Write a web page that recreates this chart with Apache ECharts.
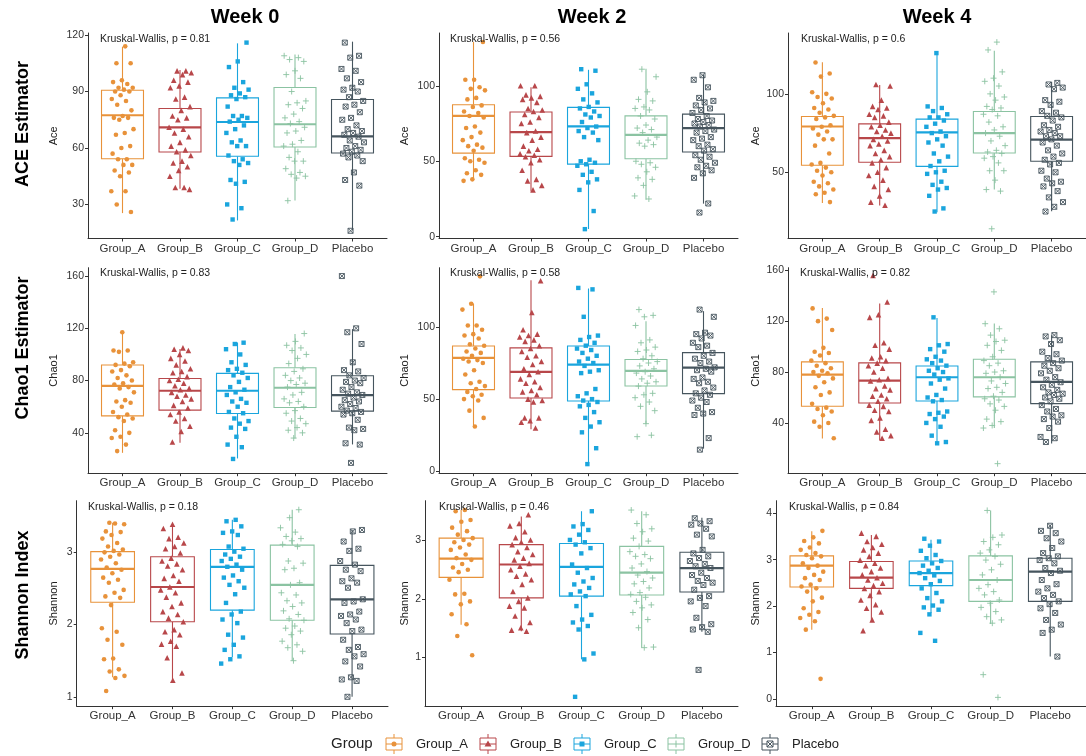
<!DOCTYPE html>
<html><head><meta charset="utf-8">
<script src="https://cdn.jsdelivr.net/npm/echarts@6/dist/echarts.min.js"></script>
<style>html,body{margin:0;padding:0;background:#fff}#c{width:1086px;height:756px}</style>
</head><body><div id="c"></div>
<script>
// ---------- data ----------
const groups = ['Group_A','Group_B','Group_C','Group_D','Placebo'];
const weeks = ['Week 0','Week 2','Week 4'];
const metrics = ['ACE Estimator','Chao1 Estimator','Shannon Index'];
const axisNames = ['Ace','Chao1','Shannon'];
const pValues = [['0.81','0.56','0.6'],['0.83','0.58','0.82'],['0.18','0.46','0.84']];

// box stats: [lower whisker, Q1, median, Q3, upper whisker]
const ace_w0_box = [[25.4,54.3,77.4,90.7,113.8],[38.4,57.9,70.9,81,101.4],[21.5,55.6,73.8,86.6,115.6],[32.1,60.5,72.6,92.1,109.7],[16.2,57.3,66.2,85.8,116.5]];
const ace_w2_box = [[37.7,55.4,80.1,87.4,129],[30,53.2,69.3,82.6,99.1],[5.1,48.1,73.1,85.7,110.6],[24.5,51.7,67.5,80.1,111.3],[21.9,56.1,72,81.2,107.3]];
const ace_w4_box = [[30.5,54.5,79.2,85.6,120.1],[28.8,56.4,71.8,80.9,105.7],[24.6,53.8,75.4,83.9,125.8],[39,62.3,75,88.8,127.5],[25.2,57,70.8,85.6,107.8]];
const chao_w0_box = [[24.7,53,76,91.9,116.9],[32.4,57.4,72.2,81.6,104.1],[20.4,54.8,72.2,85.5,109.2],[35.7,59.4,74.5,89.8,115.6],[31.1,56.6,68.9,83.7,119.4]];
const chao_w2_box = [[31.4,56.6,78.5,86.8,116.2],[29.1,50.8,68.8,85.5,132.3],[5.3,48.7,73.9,86.8,126.6],[33,59.1,69.5,77.4,103.9],[15.7,53.8,71.8,82.2,110.9]];
const chao_w4_box = [[27.7,53.1,78,88,130.4],[26.4,55.7,73.3,87.2,133.8],[23.8,57.3,75.9,84.8,122.5],[36.1,60.5,75.9,90.1,118.1],[23.8,55.2,72.2,88,108.9]];
const shan_w0_box = [[1.27,2.31,2.77,3.01,3.41],[1.23,2.04,2.52,2.94,3.36],[1.55,2.20,2.80,3.04,3.45],[1.50,2.06,2.55,3.10,3.59],[1.0,1.87,2.35,2.82,3.31]];
const shan_w2_box = [[1.56,2.37,2.69,3.04,3.52],[1.45,2.02,2.59,2.93,3.41],[0.97,2.05,2.55,2.95,3.50],[1.17,2.07,2.45,2.90,3.50],[1.44,2.12,2.53,2.80,3.39]];
const shan_w4_box = [[1.49,2.41,2.87,3.08,3.61],[1.67,2.38,2.61,2.96,3.53],[1.85,2.44,2.71,2.97,3.43],[1.61,2.10,2.56,3.08,4.06],[0.91,2.10,2.74,3.03,3.75]];

// individual samples (jittered points), one array per group
const ace_w0_pts = [
 [114,105,105,96,95,94,92,92,91,90,90,88,86,85,83,80,77,76,76,75,70,68,67,61,60,57,54,54,51,51,48,47,45,37,37,30,26],
 [101,101,100,99,96,95,93,92,87,86,82,80,77,76,75,71,70,68,66,63,61,59,58,56,53,52,50,48,45,39,39,38],
 [116,106,103,95,92,91,89,88,87,86,82,77,77,76,75,74,72,70,68,64,63,61,61,56,54,53,52,51,43,42,41,30,28,22],
 [109,108,107,106,101,99,97,90,85,84,83,81,78,76,74,73,71,69,68,64,62,61,58,55,53,53,49,47,46,45,44,32],
 [116,109,108,102,101,97,95,92,91,90,87,85,83,82,79,76,75,72,70,69,68,67,66,64,63,61,60,59,58,57,56,55,53,47,43,40,16]];
const ace_w2_pts = [
 [129,104,104,99,98,97,92,91,87,86,83,82,80,79,73,72,69,66,64,61,60,59,57,52,51,50,49,44,42,41,38,37],
 [100,100,94,93,92,91,89,85,84,83,81,79,76,75,70,69,66,64,60,58,57,55,54,53,51,49,44,38,37,34,31],
 [111,110,101,98,95,91,89,86,85,83,81,80,79,76,73,72,70,69,66,64,51,50,49,48,47,43,41,38,36,31,17,5],
 [111,106,96,91,90,86,85,84,80,78,74,72,71,69,66,64,62,61,60,50,49,48,46,43,39,38,34,27,25],
 [107,104,99,92,90,89,87,85,84,82,80,78,77,76,75,74,73,71,70,69,66,65,64,61,60,58,57,54,53,51,49,47,46,44,42,39,22,16]];
const ace_w4_pts = [
 [120,113,111,101,100,98,97,94,91,90,88,86,85,84,80,79,78,76,74,71,71,67,62,56,55,53,51,50,48,44,43,41,39,37,36,31],
 [106,105,96,92,91,90,87,86,85,82,80,79,77,76,75,73,71,70,68,67,64,62,60,58,56,53,50,48,45,41,39,35,31,29],
 [126,92,91,89,87,85,85,83,81,79,76,75,73,71,69,67,62,60,57,54,51,50,49,44,42,40,39,35,27,25],
 [133,128,114,110,108,105,100,98,96,92,91,90,87,86,82,79,77,75,73,70,67,64,63,62,60,59,56,51,51,45,39,38,14],
 [107,106,104,103,96,95,93,89,88,86,85,83,80,79,77,76,75,73,73,71,69,67,64,62,60,58,56,55,51,50,46,44,43,41,38,34,31,28,25]];
const chao_w0_pts = [
 [117,103,103,102,94,93,92,91,88,87,84,82,80,78,77,75,74,71,65,64,63,60,56,54,52,51,49,42,40,37,36,31,26],
 [105,104,103,100,97,95,92,89,87,86,83,81,80,78,76,74,73,71,69,68,66,64,61,59,56,54,51,49,45,41,33],
 [109,108,104,100,94,92,89,88,86,84,82,79,75,73,71,69,66,64,63,60,56,55,51,49,47,44,43,37,31,29,20],
 [116,110,107,105,103,100,97,93,89,87,84,82,80,78,77,75,71,69,66,64,63,60,57,55,51,49,47,44,42,40,36],
 [160,120,117,108,94,88,87,84,82,80,79,78,75,73,71,70,69,67,65,64,62,60,59,57,56,55,54,50,44,43,42,32,31,17]];
const chao_w2_pts = [
 [135,116,112,101,101,98,95,94,92,88,87,85,83,82,80,78,77,76,75,70,67,62,61,59,57,55,53,52,50,49,42,37,31],
 [132,110,98,95,94,93,91,90,87,85,83,80,79,76,74,71,69,67,64,62,61,58,56,55,53,50,49,48,37,37,35,34,30],
 [127,126,107,94,93,91,89,87,85,84,82,80,78,76,75,73,70,69,68,57,54,52,50,49,48,46,45,41,37,34,31,27,16,5],
 [112,108,107,101,91,89,86,84,83,80,78,76,75,73,71,69,68,66,64,62,61,59,54,53,51,48,45,42,33,24,25],
 [112,107,96,95,94,92,89,87,86,82,80,78,76,75,72,71,70,69,65,64,62,61,58,56,54,53,51,49,48,44,41,40,39,23,15]];
const chao_w4_pts = [
 [130,122,120,113,99,96,95,93,89,87,85,83,81,80,79,77,75,72,68,64,62,55,52,51,49,46,41,40,37,28],
 [156,135,125,123,103,101,98,92,91,89,87,85,83,80,75,74,73,69,67,66,62,61,59,57,54,53,50,49,44,42,35,33,30,28],
 [123,102,101,98,96,92,90,89,87,85,83,81,80,78,75,74,71,67,62,60,58,57,49,48,47,45,43,40,37,30,25,24],
 [143,118,114,109,105,104,101,97,92,89,87,85,81,80,79,76,73,71,68,67,64,61,59,58,55,53,50,43,41,38,36,8],
 [109,108,105,102,96,94,91,89,87,85,83,81,79,76,74,72,70,68,66,64,63,62,60,59,57,54,51,49,46,45,43,41,36,29,28,25]];
const shan_w0_pts = [
 [3.41,3.39,3.40,3.29,3.28,3.24,3.19,3.13,3.08,3.04,3.02,3.00,2.97,2.94,2.90,2.85,2.79,2.76,2.71,2.65,2.62,2.58,2.48,2.44,2.39,2.37,2.27,1.95,1.90,1.79,1.72,1.53,1.52,1.38,1.35,1.29,1.26,1.08],
 [3.39,3.33,3.21,3.19,3.13,3.08,3.05,2.99,2.92,2.88,2.84,2.81,2.76,2.68,2.64,2.60,2.52,2.48,2.44,2.38,2.30,2.25,2.18,2.14,2.09,2.04,1.93,1.90,1.86,1.77,1.73,1.70,1.54,1.33,1.23],
 [3.45,3.43,3.36,3.29,3.27,3.24,3.08,3.05,3.01,2.97,2.94,2.91,2.88,2.83,2.80,2.76,2.68,2.65,2.60,2.55,2.51,2.42,2.30,2.18,2.14,2.07,2.02,1.86,1.82,1.72,1.65,1.56,1.52,1.46],
 [3.59,3.48,3.34,3.28,3.22,3.19,3.16,3.11,3.08,2.88,2.85,2.78,2.76,2.58,2.55,2.44,2.41,2.33,2.30,2.25,2.19,2.14,2.08,2.06,1.98,1.95,1.91,1.86,1.77,1.72,1.68,1.63,1.50],
 [3.31,3.29,3.15,3.05,3.02,2.88,2.83,2.76,2.74,2.64,2.60,2.58,2.51,2.35,2.32,2.30,2.18,2.14,2.12,2.07,2.02,1.93,1.91,1.79,1.69,1.65,1.59,1.56,1.49,1.42,1.27,1.24,1.22,1.00]];
const shan_w2_pts = [
 [3.52,3.50,3.35,3.32,3.22,3.16,3.10,3.04,3.01,2.97,2.93,2.88,2.84,2.76,2.70,2.67,2.60,2.54,2.50,2.46,2.33,2.09,2.08,1.96,1.91,1.74,1.57,1.37,1.04],
 [3.44,3.29,3.25,3.15,3.05,3.01,2.97,2.93,2.88,2.81,2.76,2.70,2.67,2.61,2.56,2.50,2.43,2.39,2.33,2.25,2.13,2.02,1.96,1.88,1.85,1.71,1.60,1.51,1.47,1.45],
 [3.50,3.28,3.24,3.18,3.10,3.01,2.97,2.93,2.87,2.78,2.59,2.53,2.45,2.36,2.30,2.25,2.19,2.13,2.08,2.05,1.88,1.73,1.65,1.60,1.54,1.48,1.07,0.97,0.33],
 [3.52,3.44,3.29,3.20,3.15,3.04,2.99,2.90,2.81,2.76,2.73,2.69,2.60,2.53,2.47,2.41,2.36,2.30,2.26,2.19,2.11,2.08,2.03,1.96,1.90,1.85,1.77,1.65,1.51,1.18,1.17],
 [3.38,3.33,3.29,3.27,3.20,3.10,3.07,2.84,2.78,2.73,2.70,2.65,2.60,2.56,2.53,2.45,2.41,2.36,2.31,2.28,2.24,2.16,2.05,2.02,1.96,1.88,1.68,1.57,1.52,1.48,1.44,0.79]];
const shan_w4_pts = [
 [3.62,3.48,3.40,3.35,3.26,3.21,3.14,3.10,3.07,3.03,2.92,2.87,2.82,2.74,2.67,2.60,2.56,2.46,2.42,2.38,2.31,2.18,2.10,1.95,1.87,1.81,1.74,1.67,1.49,0.43],
 [3.57,3.50,3.39,3.33,3.26,3.21,3.14,3.07,2.99,2.92,2.87,2.82,2.74,2.67,2.61,2.56,2.49,2.44,2.38,2.31,2.23,2.13,2.03,1.95,1.87,1.70,1.47],
 [3.45,3.39,3.30,3.19,3.10,3.03,2.97,2.92,2.87,2.82,2.76,2.71,2.66,2.60,2.54,2.47,2.38,2.28,2.17,2.10,2.01,1.97,1.92,1.82,1.42,1.25],
 [4.06,3.53,3.48,3.39,3.32,3.21,3.14,3.07,2.99,2.90,2.78,2.67,2.56,2.46,2.38,2.31,2.24,2.13,2.06,1.97,1.88,1.77,1.70,1.63,0.52,0.03],
 [3.73,3.62,3.57,3.46,3.39,3.25,3.14,3.07,3.03,2.99,2.92,2.82,2.76,2.71,2.56,2.47,2.38,2.31,2.24,2.17,2.10,2.04,1.95,1.85,1.70,1.60,1.49,1.42,0.91]];

// tick labels per panel
const ace_w0_ticks = [30,60,90,120];
const ace_w2_ticks = [0,50,100];
const ace_w4_ticks = [50,100];
const chao_w0_ticks = [40,80,120,160];
const chao_w2_ticks = [0,50,100];
const chao_w4_ticks = [40,80,120,160];
const shan_w0_ticks = [1,2,3];
const shan_w2_ticks = [1,2,3];
const shan_w4_ticks = [0,1,2,3,4];

// ---------- layout / style ----------
const FONT = "'Liberation Sans', Arial, Helvetica, sans-serif";
const COLORS = ['#E8923A','#B8474A','#1AA5DD','#8BC3A2','#46555E'];
const SYM = ['circle','triangle','rect','path://M5 0L5 10M0 5L10 5','path://M0 0L10 0L10 10L0 10ZM0 0L10 10M10 0L0 10'];
const SYM_SIZE = [4.6,5.6,4.4,6,5];
const BOX_W = 0.73;
const ROW_TOP = [33, 267.7, 500.7];
const ROW_H = 205.5;
const COL_LEFT = [[88,439,788],[88,439,788],[76.7,425,776]];
const COL_W = [[299,299,298],[299,299,298],[311.3,313,310]];
const Y_RANGE = [[[11.9,121.1],[-1.2,135],[7.8,138.8]],
                 [[9.1,166.4],[-1.3,141],[0.5,162]],
                 [[0.87,3.715],[0.17,3.68],[-0.16,4.27]]];
const KW_POS = [[[100,39],[450,39],[801,39]],[[100,273],[450,273],[800,273]],[[88,507],[439,507],[789,507]]];
const AXNAME_X = [54,405,756];
const WEEK_X = [245,592,937];

const panels = [
 {row:0,col:0,box:ace_w0_box,pts:ace_w0_pts,ticks:ace_w0_ticks},
 {row:0,col:1,box:ace_w2_box,pts:ace_w2_pts,ticks:ace_w2_ticks},
 {row:0,col:2,box:ace_w4_box,pts:ace_w4_pts,ticks:ace_w4_ticks},
 {row:1,col:0,box:chao_w0_box,pts:chao_w0_pts,ticks:chao_w0_ticks},
 {row:1,col:1,box:chao_w2_box,pts:chao_w2_pts,ticks:chao_w2_ticks},
 {row:1,col:2,box:chao_w4_box,pts:chao_w4_pts,ticks:chao_w4_ticks},
 {row:2,col:0,box:shan_w0_box,pts:shan_w0_pts,ticks:shan_w0_ticks},
 {row:2,col:1,box:shan_w2_box,pts:shan_w2_pts,ticks:shan_w2_ticks},
 {row:2,col:2,box:shan_w4_box,pts:shan_w4_pts,ticks:shan_w4_ticks}
];

function jitter(i, g, pi) {
  const f = ((i + 1) * 0.6180339887 + g * 0.137 + pi * 0.291) % 1;
  return (f - 0.5) * 0.4;
}

function renderBox(params, api) {
  const x = api.value(0), lo = api.value(1), q1 = api.value(2), md = api.value(3), q3 = api.value(4), hi = api.value(5);
  const hw = BOX_W / 2;
  const tl = api.coord([x - hw, q3]), br = api.coord([x + hw, q1]);
  const ml = api.coord([x - hw, md]), mr = api.coord([x + hw, md]);
  const pHi = api.coord([x, hi]), pLo = api.coord([x, lo]);
  const pQ3 = api.coord([x, q3]), pQ1 = api.coord([x, q1]);
  const c = api.visual('color');
  return {type:'group', children:[
    {type:'line', shape:{x1:pHi[0],y1:pHi[1],x2:pQ3[0],y2:pQ3[1]}, style:{stroke:c, lineWidth:1.1}},
    {type:'line', shape:{x1:pQ1[0],y1:pQ1[1],x2:pLo[0],y2:pLo[1]}, style:{stroke:c, lineWidth:1.1}},
    {type:'rect', shape:{x:tl[0], y:tl[1], width:br[0]-tl[0], height:br[1]-tl[1]}, style:{fill:'#fff', stroke:c, lineWidth:1.1}},
    {type:'line', shape:{x1:ml[0],y1:ml[1],x2:mr[0],y2:mr[1]}, style:{stroke:c, lineWidth:2.2}}
  ]};
}

const grid = [], xAxis = [], yAxis = [], series = [], graphic = [];
const axisLineStyle = {color:'#333', width:1};

panels.forEach((p, pi) => {
  grid.push({left: COL_LEFT[p.row][p.col], top: ROW_TOP[p.row], width: COL_W[p.row][p.col], height: ROW_H});
  xAxis.push({gridIndex:pi, type:'value', min:-0.6, max:4.6,
    axisLine:{show:true, onZero:false, lineStyle:axisLineStyle},
    axisTick:{show:true, length:3, customValues:[0,1,2,3,4], lineStyle:axisLineStyle},
    axisLabel:{customValues:[0,1,2,3,4], formatter:(v)=>groups[Math.round(v)], fontSize:11.5, fontFamily:FONT, color:'#333', margin:4},
    splitLine:{show:false}});
  const r = Y_RANGE[p.row][p.col];
  yAxis.push({gridIndex:pi, type:'value', min:r[0], max:r[1],
    axisLine:{show:true, onZero:false, lineStyle:axisLineStyle},
    axisTick:{show:true, length:3, customValues:p.ticks, lineStyle:axisLineStyle},
    axisLabel:{customValues:p.ticks, fontSize:10.5, fontFamily:FONT, color:'#333', margin:4},
    splitLine:{show:false}});
  p.box.forEach((b, g) => {
    series.push({type:'custom', xAxisIndex:pi, yAxisIndex:pi, z:1, silent:true,
      itemStyle:{color:COLORS[g]}, renderItem:renderBox, encode:{x:0, y:[1,2,3,4,5]},
      data:[[g].concat(b)]});
  });
  p.pts.forEach((arr, g) => {
    const isPath = g >= 3;
    series.push({type:'scatter', xAxisIndex:pi, yAxisIndex:pi, z:2, silent:true,
      symbol:SYM[g], symbolSize:SYM_SIZE[g],
      itemStyle: isPath ? {color:'rgba(0,0,0,0)', borderColor:COLORS[g], borderWidth:0.9, opacity:1}
                        : {color:COLORS[g], opacity:1},
      data: arr.map((v, i) => [g + jitter(i, g, pi), v])});
  });
  const kp = KW_POS[p.row][p.col];
  graphic.push({type:'text', x:kp[0], y:kp[1], z:10, style:{text:'Kruskal-Wallis, p = ' + pValues[p.row][p.col], fontSize:10.5, fontFamily:FONT, fill:'#222', align:'left', verticalAlign:'middle'}});
  graphic.push({type:'text', x:AXNAME_X[p.col], y:ROW_TOP[p.row] + ROW_H/2, rotation:Math.PI/2, style:{text:axisNames[p.row], fontSize:11, fontFamily:FONT, fill:'#222', align:'center', verticalAlign:'middle'}});
});

weeks.forEach((w, i) => {
  graphic.push({type:'text', x:WEEK_X[i], y:17, style:{text:w, fontSize:20, fontWeight:'bold', fontFamily:FONT, fill:'#000', align:'center', verticalAlign:'middle'}});
});
const ROW_LABEL_Y = [124, 348, 595];
metrics.forEach((m, i) => {
  graphic.push({type:'text', x:23, y:ROW_LABEL_Y[i], rotation:Math.PI/2, style:{text:m, fontSize:18, fontWeight:'bold', fontFamily:FONT, fill:'#000', align:'center', verticalAlign:'middle'}});
});

// legend
const LEG_Y = 744;
const LEG_ICON_X = [394, 488, 582, 676, 770];
const LEG_TEXT_X = [416, 510, 604, 698, 792];
graphic.push({type:'text', x:331, y:LEG_Y, style:{text:'Group', fontSize:15, fontFamily:FONT, fill:'#222', align:'left', verticalAlign:'middle'}});
groups.forEach((g, i) => {
  const c = COLORS[i];
  const ch = [
    {type:'line', shape:{x1:0,y1:-10,x2:0,y2:10}, style:{stroke:c, lineWidth:1}},
    {type:'rect', shape:{x:-8,y:-6,width:16,height:12}, style:{fill:'#fff', stroke:c, lineWidth:1}},
    {type:'line', shape:{x1:-8,y1:0,x2:8,y2:0}, style:{stroke:c, lineWidth:1}}
  ];
  if (i === 0) ch.push({type:'circle', shape:{cx:0,cy:0,r:2.5}, style:{fill:c}});
  if (i === 1) ch.push({type:'polygon', shape:{points:[[0,-3.5],[3.5,2.5],[-3.5,2.5]]}, style:{fill:c}});
  if (i === 2) ch.push({type:'rect', shape:{x:-2.5,y:-2.5,width:5,height:5}, style:{fill:c}});
  if (i === 3) ch.push({type:'line', shape:{x1:0,y1:-3.5,x2:0,y2:3.5}, style:{stroke:c, lineWidth:1}});
  if (i === 4) {
    ch.push({type:'rect', shape:{x:-3,y:-3,width:6,height:6}, style:{fill:'#fff', stroke:c, lineWidth:1}});
    ch.push({type:'line', shape:{x1:-3,y1:-3,x2:3,y2:3}, style:{stroke:c, lineWidth:1}});
    ch.push({type:'line', shape:{x1:3,y1:-3,x2:-3,y2:3}, style:{stroke:c, lineWidth:1}});
  }
  graphic.push({type:'group', x:LEG_ICON_X[i], y:LEG_Y, children:ch});
  graphic.push({type:'text', x:LEG_TEXT_X[i], y:LEG_Y, style:{text:g, fontSize:13, fontFamily:FONT, fill:'#222', align:'left', verticalAlign:'middle'}});
});

const chart = echarts.init(document.getElementById('c'), null, {renderer:'canvas'});
chart.setOption({animation:false, backgroundColor:'#fff', grid, xAxis, yAxis, series, graphic});
</script></body></html>
